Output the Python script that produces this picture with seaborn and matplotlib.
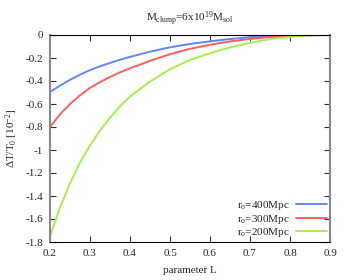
import numpy as np
import pandas as pd
import matplotlib
matplotlib.use("Agg")
import matplotlib.pyplot as plt
import seaborn as sns

# values
param_L = [0.2, 0.225, 0.25, 0.275, 0.3, 0.325, 0.35, 0.375, 0.4, 0.45,
           0.5, 0.55, 0.6, 0.65, 0.7, 0.75, 0.8, 0.85, 0.9]
dT_400 = [-0.495, -0.44, -0.39, -0.345, -0.305, -0.272, -0.243, -0.215, -0.19, -0.145,
          -0.107, -0.078, -0.055, -0.035, -0.019, -0.009, -0.003, -0.001, 0.0]
dT_300 = [-0.80, -0.69, -0.60, -0.525, -0.46, -0.41, -0.365, -0.325, -0.29, -0.225,
          -0.167, -0.12, -0.085, -0.056, -0.034, -0.018, -0.008, -0.002, 0.0]
dT_200 = [-1.75, -1.50, -1.29, -1.11, -0.96, -0.83, -0.72, -0.62, -0.535, -0.405,
          -0.297, -0.217, -0.158, -0.108, -0.068, -0.036, -0.015, -0.004, 0.0]
labels = [r"r$_{\rm o}$=400Mpc", r"r$_{\rm o}$=300Mpc", r"r$_{\rm o}$=200Mpc"]
colors = ["#5f87ff", "#ff5f5f", "#a6ee4e"]
xticks = [0.2, 0.3, 0.4, 0.5, 0.6, 0.7, 0.8, 0.9]
yticks = [0, -0.2, -0.4, -0.6, -0.8, -1, -1.2, -1.4, -1.6, -1.8]

df = pd.concat([
    pd.DataFrame({"L": param_L, "dT": vals, "series": lab})
    for vals, lab in zip([dT_400, dT_300, dT_200], labels)
])

sns.set_style("ticks")
plt.rcParams["font.family"] = ["Liberation Serif", "DejaVu Serif"]
plt.rcParams["mathtext.fontset"] = "custom"
plt.rcParams["mathtext.rm"] = "Liberation Serif"
plt.rcParams["mathtext.it"] = "Liberation Serif:italic"
plt.rcParams["axes.unicode_minus"] = False

fig = plt.figure(figsize=(3.5, 2.8), dpi=100)
ax = fig.add_axes([50/350, 38/280, 280/350, 207/280])

sns.lineplot(data=df, x="L", y="dT", hue="series", palette=colors,
             linewidth=1.4, ax=ax, sort=True)

ax.set_xlim(0.2, 0.9)
ax.set_ylim(-1.8, 0)
ax.set_xticks(xticks)
ax.set_xticklabels(["%g" % t for t in xticks])
ax.set_yticks(yticks)
ax.set_yticklabels(["%g" % t for t in yticks])
ax.tick_params(direction="in", length=4, width=0.8, labelsize=8,
               top=True, right=True, pad=5, color="#333333")

for side in ["top", "bottom"]:
    ax.spines[side].set_visible(True)
    ax.spines[side].set_color("black")
    ax.spines[side].set_linewidth(0.8)
for side in ["left", "right"]:
    ax.spines[side].set_visible(True)
    ax.spines[side].set_color("#888888")
    ax.spines[side].set_linewidth(1.5)

ax.set_xlabel("parameter L", fontsize=8, labelpad=6)
ax.set_ylabel(r"$\Delta$T/T$_0$ [10$^{-2}$]", fontsize=8, labelpad=4)
ax.set_title(r"M$_{\rm clump}$=6x10$^{19}$M$_{\rm sol}$", fontsize=8, pad=10)

leg = ax.legend(loc="lower right", frameon=False, fontsize=8, markerfirst=False,
                handlelength=2.8, handletextpad=0.6, labelspacing=0.05,
                borderpad=0.15, borderaxespad=0.1)

fig.savefig("out.png", dpi=100)
